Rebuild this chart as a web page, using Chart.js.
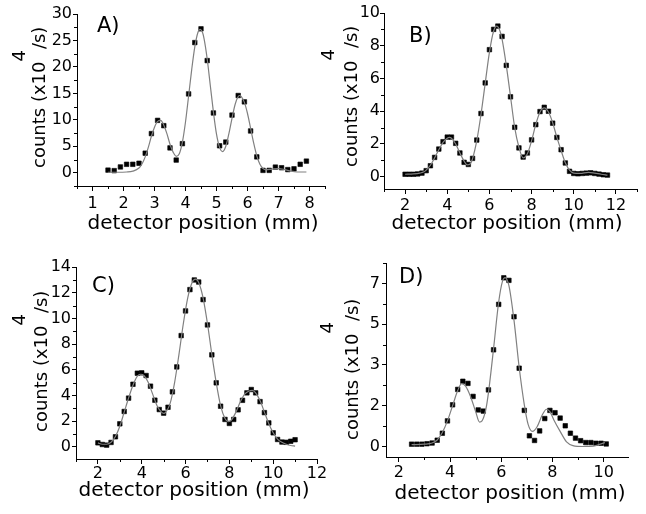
<!DOCTYPE html>
<html>
<head>
<meta charset="utf-8">
<script src="https://cdn.jsdelivr.net/npm/chart.js@4.4.1/dist/chart.umd.min.js"></script>
<style>
  html, body { margin: 0; padding: 0; background: #fff; }
  #wrap { position: relative; width: 646px; height: 514px; background: #fff; }
  canvas { position: absolute; }
</style>
</head>
<body>
<div id="wrap">
  <canvas id="cA" width="330" height="250" style="left:0;top:0"></canvas>
  <canvas id="cB" width="331" height="250" style="left:315px;top:0"></canvas>
  <canvas id="cC" width="330" height="264" style="left:0;top:250px"></canvas>
  <canvas id="cD" width="331" height="264" style="left:315px;top:250px"></canvas>
</div>
<script>
// ---- panel A ----
const aX = [1.5, 1.7, 1.9, 2.1, 2.3, 2.5, 2.7, 2.9, 3.1, 3.3, 3.5, 3.7, 3.9, 4.1, 4.3, 4.5, 4.7, 4.9, 5.1, 5.3, 5.5, 5.7, 5.9, 6.1, 6.3, 6.5, 6.7, 6.9, 7.1, 7.3, 7.5, 7.7, 7.9];
const aY = [0.5, 0.4, 1.1, 1.6, 1.6, 1.8, 3.7, 7.4, 9.9, 8.9, 4.7, 2.4, 5.5, 14.9, 24.6, 27.2, 21.2, 11.3, 5.1, 5.8, 10.9, 14.6, 13.4, 7.9, 3.0, 0.45, 0.45, 1.07, 0.95, 0.6, 0.75, 1.6, 2.2];
const aFitX = [1.5, 1.8, 2.1, 2.3, 2.5, 2.6, 2.7, 2.8, 2.9, 3.0, 3.1, 3.2, 3.3, 3.4, 3.5, 3.6, 3.7, 3.8, 3.9, 4.0, 4.1, 4.2, 4.3, 4.4, 4.47, 4.55, 4.6, 4.7, 4.8, 4.9, 5.0, 5.1, 5.2, 5.3, 5.4, 5.5, 5.6, 5.7, 5.75, 5.8, 5.9, 6.0, 6.1, 6.2, 6.3, 6.4, 6.5, 6.6, 6.8, 7.0, 7.2, 7.4, 7.6, 7.9];
const aFitY = [0.1, 0.1, 0.15, 0.3, 0.9, 1.7, 3.0, 4.8, 6.9, 8.6, 9.7, 9.9, 9.0, 7.4, 5.4, 3.9, 3.1, 3.6, 5.8, 9.6, 14.5, 19.5, 23.8, 26.5, 27.1, 26.5, 25.3, 21.5, 16.5, 11.5, 7.3, 4.8, 4.0, 5.0, 7.4, 10.3, 12.9, 14.4, 14.6, 14.4, 13.3, 11.2, 8.4, 5.6, 3.2, 1.6, 0.8, 0.55, 0.7, 0.8, 0.6, 0.3, 0.15, 0.15];
const aXTicks = [1, 2, 3, 4, 5, 6, 7, 8];
const aXMinor = [0.5, 1.5, 2.5, 3.5, 4.5, 5.5, 6.5, 7.5, 8.5];
const aYTicks = [0, 5, 10, 15, 20, 25, 30];
const aYMinor = [-2.5, 2.5, 7.5, 12.5, 17.5, 22.5, 27.5];

// ---- panel B ----
const bX = [2.0, 2.2, 2.4, 2.6, 2.8, 3.0, 3.2, 3.4, 3.6, 3.8, 4.0, 4.2, 4.4, 4.6, 4.8, 5.0, 5.2, 5.4, 5.6, 5.8, 6.0, 6.2, 6.4, 6.6, 6.8, 7.0, 7.2, 7.4, 7.6, 7.8, 8.0, 8.2, 8.4, 8.6, 8.8, 9.0, 9.2, 9.4, 9.6, 9.8, 10.0, 10.2, 10.4, 10.6, 10.8, 11.0, 11.2, 11.4, 11.6];
const bY = [0.15, 0.15, 0.15, 0.17, 0.22, 0.37, 0.67, 1.18, 1.69, 2.14, 2.42, 2.42, 2.04, 1.45, 0.88, 0.75, 1.12, 2.24, 3.86, 5.73, 7.76, 9.0, 9.2, 8.57, 6.8, 4.88, 3.02, 1.76, 1.2, 1.45, 2.25, 3.18, 3.98, 4.24, 4.0, 3.27, 2.4, 1.65, 0.84, 0.33, 0.2, 0.18, 0.2, 0.22, 0.24, 0.2, 0.16, 0.12, 0.1];
const bFitX = [2.0, 2.4, 2.7, 2.9, 3.0, 3.2, 3.4, 3.6, 3.8, 4.0, 4.1, 4.2, 4.4, 4.6, 4.8, 4.95, 5.1, 5.2, 5.4, 5.6, 5.8, 6.0, 6.2, 6.35, 6.5, 6.6, 6.8, 7.0, 7.2, 7.4, 7.6, 7.8, 8.0, 8.2, 8.4, 8.6, 8.8, 9.0, 9.2, 9.4, 9.6, 9.8, 10.0, 10.3, 10.7, 11.0, 11.3, 11.6];
const bFitY = [0.15, 0.17, 0.22, 0.3, 0.4, 0.7, 1.15, 1.65, 2.1, 2.35, 2.4, 2.35, 2.0, 1.45, 0.95, 0.72, 0.8, 1.1, 2.2, 3.8, 5.7, 7.6, 8.9, 9.2, 8.9, 8.4, 6.8, 4.9, 3.0, 1.8, 1.15, 1.4, 2.2, 3.2, 3.95, 4.2, 3.95, 3.3, 2.4, 1.6, 0.85, 0.4, 0.22, 0.2, 0.27, 0.22, 0.15, 0.1];
const bXTicks = [2, 4, 6, 8, 10, 12];
const bXMinor = [1, 3, 5, 7, 9, 11, 13];
const bYTicks = [0, 2, 4, 6, 8, 10];
const bYMinor = [1, 3, 5, 7, 9];

// ---- panel C ----
const cX = [2.0, 2.2, 2.4, 2.6, 2.8, 3.0, 3.2, 3.4, 3.6, 3.8, 4.0, 4.2, 4.4, 4.6, 4.8, 5.0, 5.2, 5.4, 5.6, 5.8, 6.0, 6.2, 6.4, 6.6, 6.8, 7.0, 7.2, 7.4, 7.6, 7.8, 8.0, 8.2, 8.4, 8.6, 8.8, 9.0, 9.2, 9.4, 9.6, 9.8, 10.0, 10.2, 10.4, 10.6, 10.8, 11.0];
const cY = [0.31, 0.18, 0.13, 0.34, 0.78, 1.79, 2.75, 3.79, 4.87, 5.73, 5.76, 5.55, 4.72, 3.63, 2.9, 2.62, 3.08, 4.28, 6.22, 8.66, 10.58, 12.24, 12.99, 12.83, 11.46, 9.49, 7.16, 4.98, 3.16, 2.13, 1.82, 2.13, 2.88, 3.62, 4.2, 4.46, 4.2, 3.52, 2.66, 1.86, 1.09, 0.57, 0.37, 0.35, 0.43, 0.55];
const cFitX = [2.0, 2.2, 2.4, 2.6, 2.8, 3.0, 3.2, 3.4, 3.6, 3.8, 3.95, 4.1, 4.3, 4.5, 4.7, 4.9, 5.0, 5.1, 5.3, 5.5, 5.7, 5.9, 6.1, 6.3, 6.45, 6.6, 6.8, 7.0, 7.2, 7.4, 7.6, 7.8, 7.95, 8.1, 8.3, 8.5, 8.7, 8.9, 9.05, 9.2, 9.4, 9.6, 9.8, 10.0, 10.2, 10.4, 10.6, 10.8, 11.0];
const cFitY = [0.3, 0.2, 0.2, 0.35, 0.8, 1.6, 2.7, 3.8, 4.8, 5.5, 5.65, 5.55, 5.0, 4.1, 3.2, 2.7, 2.6, 2.7, 3.4, 5.0, 7.2, 9.6, 11.6, 12.8, 13.05, 12.8, 11.6, 9.6, 7.2, 5.0, 3.2, 2.2, 1.95, 2.1, 2.7, 3.5, 4.1, 4.35, 4.4, 4.2, 3.6, 2.7, 1.8, 1.1, 0.6, 0.35, 0.2, 0.1, 0.05];
const cXTicks = [2, 4, 6, 8, 10, 12];
const cXMinor = [1, 3, 5, 7, 9, 11];
const cYTicks = [0, 2, 4, 6, 8, 10, 12, 14];
const cYMinor = [1, 3, 5, 7, 9, 11, 13];

// ---- panel D ----
const dX = [2.5, 2.7, 2.9, 3.1, 3.3, 3.5, 3.7, 3.9, 4.1, 4.3, 4.5, 4.7, 4.9, 5.1, 5.3, 5.5, 5.7, 5.9, 6.1, 6.3, 6.5, 6.7, 6.9, 7.1, 7.3, 7.5, 7.7, 7.9, 8.1, 8.3, 8.5, 8.7, 8.9, 9.1, 9.3, 9.5, 9.7, 9.9, 10.1];
const dY = [0.1, 0.1, 0.1, 0.12, 0.15, 0.27, 0.57, 1.1, 1.79, 2.45, 2.8, 2.71, 2.15, 1.57, 1.52, 2.43, 4.15, 6.1, 7.24, 7.13, 5.57, 3.36, 1.55, 0.46, 0.26, 0.67, 1.2, 1.55, 1.45, 1.22, 0.89, 0.57, 0.36, 0.25, 0.17, 0.17, 0.14, 0.14, 0.11];
const dFitX = [2.5, 3.0, 3.3, 3.5, 3.7, 3.9, 4.1, 4.3, 4.45, 4.6, 4.8, 5.0, 5.15, 5.25, 5.4, 5.5, 5.7, 5.9, 6.05, 6.15, 6.3, 6.5, 6.7, 6.9, 7.05, 7.22, 7.4, 7.6, 7.77, 7.9, 8.05, 8.3, 8.55, 8.8, 9.2, 9.6, 10.05];
const dFitY = [0.08, 0.1, 0.15, 0.28, 0.6, 1.1, 1.75, 2.4, 2.7, 2.6, 2.15, 1.5, 1.05, 1.1, 1.6, 2.3, 4.2, 6.2, 7.1, 7.25, 6.9, 5.4, 3.4, 1.8, 0.95, 0.65, 0.85, 1.35, 1.6, 1.5, 1.15, 0.65, 0.2, 0.04, 0.0, 0.02, 0.17];
const dXTicks = [2, 4, 6, 8, 10];
const dXMinor = [3, 5, 7, 9];
const dYTicks = [0, 1.75, 3.5, 5.25, 7];
const dYLabels = ["0", "2", "3", "5", "7"];
const dYMinor = [0.875, 2.625, 4.375, 6.125, 7.875];

const xTitle = "detector position (mm)";
const yTitle = ["counts (x10", "4", "/s)"];
const FONT = "'DejaVu Sans'";

Chart.defaults.font.family = "DejaVu Sans";
Chart.defaults.color = "#000";
Chart.defaults.animation = false;

// titles, panel letter and the short minor ticks
const panelText = {
  id: "panelText",
  afterDraw(chart, args, o) {
    const ctx = chart.ctx;
    const area = chart.chartArea;
    const sx = chart.scales.x, sy = chart.scales.y;
    ctx.save();
    ctx.strokeStyle = "#000";
    ctx.lineWidth = 1;
    ctx.beginPath();
    o.minorX.forEach(v => {
      const px = Math.round(sx.getPixelForValue(v)) + 0.5;
      ctx.moveTo(px, area.bottom);
      ctx.lineTo(px, area.bottom + 3);
    });
    o.minorY.forEach(v => {
      const py = Math.round(sy.getPixelForValue(v)) + 0.5;
      ctx.moveTo(area.left, py);
      ctx.lineTo(area.left - 3, py);
    });
    ctx.stroke();

    ctx.fillStyle = "#000";
    ctx.textBaseline = "alphabetic";
    ctx.font = "21px " + FONT;
    ctx.textAlign = "left";
    ctx.fillText(o.letter, o.letterX, o.letterY);

    ctx.font = "20px " + FONT;
    ctx.textAlign = "center";
    ctx.fillText(xTitle, o.xTitleX, o.xTitleY);

    ctx.font = "18px " + FONT;
    ctx.textAlign = "left";
    ctx.translate(o.yTitleX, o.yTitleY);
    ctx.rotate(-Math.PI / 2);
    ctx.fillText(yTitle[0], 0, 0);
    let w = ctx.measureText(yTitle[0]).width;
    ctx.fillText(yTitle[1], w, -o.supRaise);
    w += ctx.measureText(yTitle[1]).width + 1;
    ctx.fillText(yTitle[2], w, 0);
    ctx.restore();
  }
};

function makePanel(id, p) {
  const cv = document.getElementById(id);
  const W = cv.width, H = cv.height;
  new Chart(cv, {
    type: "scatter",
    data: {
      datasets: [
        {
          data: p.fitX.map((x, i) => ({ x: x, y: p.fitY[i] })),
          showLine: true,
          borderColor: "#808080",
          borderWidth: 1.2,
          pointRadius: 0,
          cubicInterpolationMode: "monotone",
          order: 0
        },
        {
          data: p.x.map((x, i) => ({ x: x, y: p.y[i] })),
          pointStyle: "rect",
          pointRadius: 3.2,
          borderWidth: 0.6,
          backgroundColor: "#000",
          borderColor: "#000",
          order: 1
        }
      ]
    },
    options: {
      responsive: false,
      animation: false,
      layout: { autoPadding: false, padding: { left: 0, top: p.area[1], right: W - p.area[2], bottom: 0 } },
      plugins: {
        legend: { display: false },
        tooltip: { enabled: false },
        panelText: p.text
      },
      scales: {
        x: {
          type: "linear",
          min: p.xMin, max: p.xMax,
          grid: { drawOnChartArea: false, drawTicks: true, tickLength: 5, color: "#000" },
          border: { display: true, color: "#000", width: 1 },
          ticks: { font: { size: 16 }, padding: p.xPad, maxRotation: 0, color: "#000" },
          afterBuildTicks: s => { s.ticks = p.xTicks.map(v => ({ value: v })); },
          afterFit: s => { s.height = H - p.area[3]; s.paddingLeft = 0; s.paddingRight = 0; }
        },
        y: {
          type: "linear",
          min: p.yMin, max: p.yMax,
          grid: { drawOnChartArea: false, drawTicks: true, tickLength: 4, color: "#000" },
          border: { display: true, color: "#000", width: 1 },
          ticks: {
            font: { size: 16 }, padding: p.yPad, color: "#000",
            callback: (v, i) => p.yLabels ? p.yLabels[i] : String(v)
          },
          afterBuildTicks: s => { s.ticks = p.yTicks.map(v => ({ value: v })); },
          afterFit: s => { s.width = p.area[0]; s.paddingTop = 0; s.paddingBottom = 0; }
        }
      }
    },
    plugins: [panelText]
  });
}

makePanel("cA", {
  x: aX, y: aY, fitX: aFitX, fitY: aFitY,
  xMin: 0.5, xMax: 8.5, yMin: -2.5, yMax: 30,
  xTicks: aXTicks, yTicks: aYTicks,
  area: [77, 14, 325, 186], xPad: 3, yPad: 1,
  text: { minorX: aXMinor, minorY: aYMinor, letter: "A)", letterX: 97, letterY: 32,
          xTitleX: 203, xTitleY: 229, yTitleX: 45, yTitleY: 168, supRaise: 20 }
});

makePanel("cB", {
  x: bX, y: bY, fitX: bFitX, fitY: bFitY,
  xMin: 1, xMax: 13, yMin: -0.75, yMax: 10,
  xTicks: bXTicks, yTicks: bYTicks,
  area: [69, 13, 322, 189], xPad: 2, yPad: 0,
  text: { minorX: bXMinor, minorY: bYMinor, letter: "B)", letterX: 94, letterY: 42,
          xTitleX: 192, xTitleY: 229, yTitleX: 42, yTitleY: 167, supRaise: 23 }
});

makePanel("cC", {
  x: cX, y: cY, fitX: cFitX, fitY: cFitY,
  xMin: 1, xMax: 12, yMin: -0.95, yMax: 14,
  xTicks: cXTicks, yTicks: cYTicks,
  area: [76, 17, 317, 209], xPad: 0, yPad: 1,
  text: { minorX: cXMinor, minorY: cYMinor, letter: "C)", letterX: 92, letterY: 42,
          xTitleX: 194, xTitleY: 246, yTitleX: 47, yTitleY: 182, supRaise: 22 }
});

makePanel("cD", {
  x: dX, y: dY, fitX: dFitX, fitY: dFitY,
  xMin: 1.5, xMax: 10.95, yMin: -0.45, yMax: 7.875,
  xTicks: dXTicks, yTicks: dYTicks, yLabels: dYLabels,
  area: [71, 13, 313, 207], xPad: 1, yPad: 2,
  text: { minorX: dXMinor, minorY: dYMinor, letter: "D)", letterX: 84, letterY: 33,
          xTitleX: 195, xTitleY: 249, yTitleX: 43, yTitleY: 190, supRaise: 25 }
});
</script>
</body>
</html>
